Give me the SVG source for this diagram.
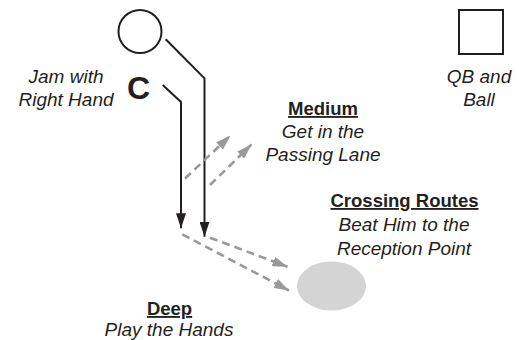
<svg xmlns="http://www.w3.org/2000/svg" width="519" height="340" viewBox="0 0 519 340">
  <style>
    .it { font-family: "Liberation Sans", Arial, sans-serif; font-style: italic; font-size: 19px; fill: #231f20; text-anchor: middle; }
    .hd { font-family: "Liberation Sans", Arial, sans-serif; font-weight: bold; font-size: 18.5px; fill: #231f20; text-anchor: middle; text-decoration: underline; }
    .route { fill: none; stroke: #231f20; stroke-width: 2; }
    .read { fill: none; stroke: #999999; stroke-width: 2.6; stroke-dasharray: 8 5; }
  </style>
  <defs>
    <marker id="blackHead" viewBox="0 0 15 10" refX="15" refY="5" markerWidth="15" markerHeight="10" markerUnits="userSpaceOnUse" orient="auto">
      <path d="M0,0 L15,5 L0,10 Z" fill="#231f20"/>
    </marker>
    <marker id="grayHead" viewBox="0 0 15 10" refX="15" refY="5" markerWidth="15" markerHeight="10" markerUnits="userSpaceOnUse" orient="auto">
      <path d="M0,0 L15,5 L0,10 Z" fill="#999999"/>
    </marker>
  </defs>

  <!-- players -->
  <g id="receiver">
    <circle cx="140" cy="31.5" r="21.5" fill="#ffffff" stroke="#231f20" stroke-width="2"/>
  </g>
  <g id="defender">
    <text x="138.5" y="98.5" font-family="'Liberation Sans', Arial, sans-serif" font-weight="bold" font-size="32" fill="#231f20" text-anchor="middle">C</text>
    <text class="it" x="66" y="83">Jam with</text>
    <text class="it" x="66" y="106">Right Hand</text>
  </g>
  <g id="qb">
    <rect x="459" y="10" width="44" height="44" fill="#ffffff" stroke="#231f20" stroke-width="2"/>
    <text class="it" x="479" y="83">QB and</text>
    <text class="it" x="479" y="106">Ball</text>
  </g>
  <g id="reception-point">
    <ellipse cx="331.5" cy="286" rx="34.5" ry="24.5" fill="#d4d4d4"/>
  </g>

  <!-- zone labels -->
  <g id="medium">
    <text class="hd" x="323" y="115">Medium</text>
    <text class="it" x="323" y="138">Get in the</text>
    <text class="it" x="323" y="161">Passing Lane</text>
  </g>
  <g id="crossing">
    <text class="hd" x="404.5" y="207">Crossing Routes</text>
    <text class="it" x="404" y="231">Beat Him to the</text>
    <text class="it" x="404" y="255">Reception Point</text>
  </g>
  <g id="deep">
    <text class="hd" x="169.5" y="315">Deep</text>
    <text class="it" x="169" y="336">Play the Hands</text>
  </g>

  <!-- routes and reads -->
  <g id="connectors">
    <path class="route" d="M165.7,39.3 L204.5,78.3 L204.5,236.7" marker-end="url(#blackHead)"/>
    <path class="route" d="M162.7,85 L181,102 L181,228.3" marker-end="url(#blackHead)"/>
    <path class="read" d="M185,178.5 L230.5,135.5" marker-end="url(#grayHead)"/>
    <path class="read" d="M210,185 L251.5,144.5" marker-end="url(#grayHead)"/>
    <path class="read" d="M210,237.7 L287.5,266.7" marker-end="url(#grayHead)"/>
    <path class="read" d="M182.3,234.3 L289,290.5" marker-end="url(#grayHead)"/>
  </g>
</svg>
